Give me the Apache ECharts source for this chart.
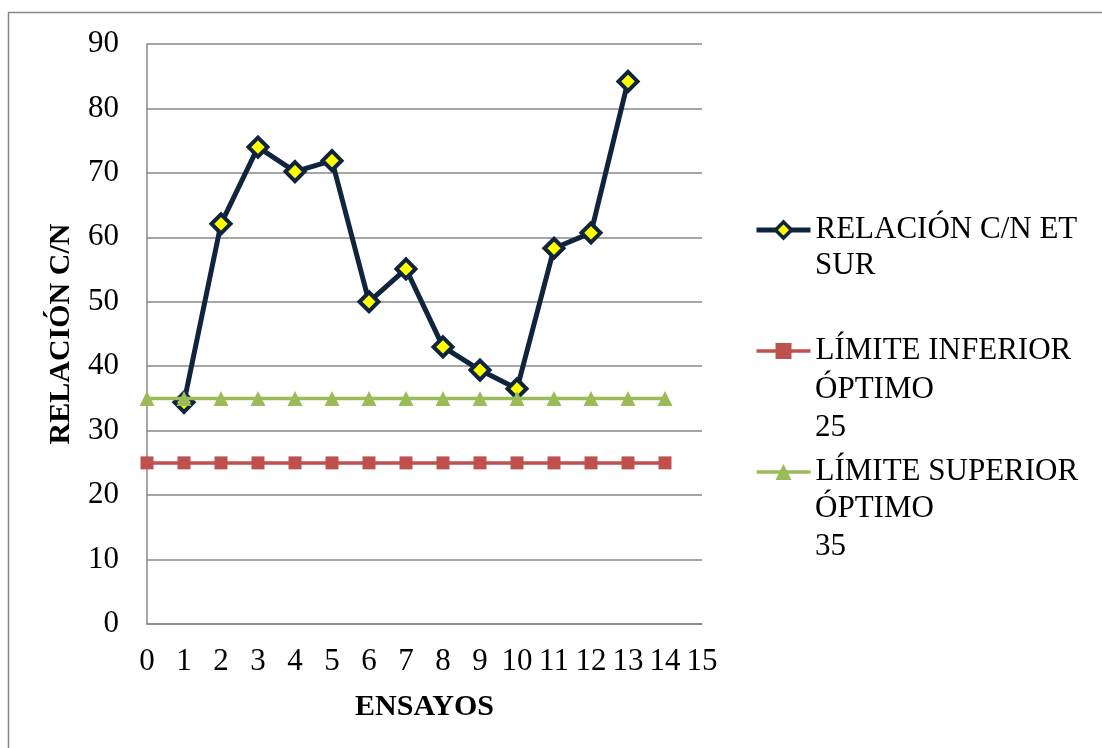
<!DOCTYPE html>
<html>
<head>
<meta charset="utf-8">
<script src="https://cdn.jsdelivr.net/npm/echarts@6/dist/echarts.min.js"></script>
<style>
html,body{margin:0;padding:0;background:#fff;}
#chart{width:1102px;height:748px;}
</style>
</head>
<body>
<div id="chart"></div>
<script>
var xTicks = [0,1,2,3,4,5,6,7,8,9,10,11,12,13,14,15];
var ensayosRel = [1,2,3,4,5,6,7,8,9,10,11,12,13];
var relacionCN = [34.4,62.1,74.0,70.2,71.9,50.0,55.1,43.0,39.4,36.5,58.3,60.7,84.2];
var ensayosLim = [0,1,2,3,4,5,6,7,8,9,10,11,12,13,14];
var limiteInferior = [25,25,25,25,25,25,25,25,25,25,25,25,25,25,25];
var limiteSuperior = [35,35,35,35,35,35,35,35,35,35,35,35,35,35,35];
var seriesNames = ['RELACIÓN C/N ET', 'LÍMITE INFERIOR', 'LÍMITE SUPERIOR'];
var legendExtra = ['SUR', 'ÓPTIMO\n25', 'ÓPTIMO\n35'];

function pairs(xs, ys){ return xs.map(function(x,i){ return [x, ys[i]]; }); }

var FONT = '"Liberation Serif", "Times New Roman", serif';
var NAVY = '#10243e', RED = '#c0504d', GREEN = '#9bbb59';
var chart = echarts.init(document.getElementById('chart'));
chart.setOption({
  animation: false,
  backgroundColor: '#fff',
  textStyle: {fontFamily: FONT},
  graphic: [
    {type:'rect', shape:{x:8.5, y:12.5, width:1200, height:800}, style:{fill:'none', stroke:'#888', lineWidth:1.5}, z:-1},
    {type:'text', left:815, top:247, style:{text:legendExtra[0], font:'31px ' + FONT, fill:'#000', lineHeight:38}},
    {type:'text', left:815, top:371, style:{text:legendExtra[1], font:'31px ' + FONT, fill:'#000', lineHeight:38}},
    {type:'text', left:815, top:490, style:{text:legendExtra[2], font:'31px ' + FONT, fill:'#000', lineHeight:38}}
  ],
  grid: {left:147, right:400, top:44, bottom:124, containLabel:false},
  legend: {
    orient: 'vertical',
    left: 749,
    top: 206,
    itemWidth: 54,
    itemHeight: 20,
    itemGap: 83,
    data: [
      {name: seriesNames[0], itemStyle:{color:'#ffff00', borderColor:NAVY, borderWidth:3.5}, lineStyle:{color:NAVY, width:5}},
      {name: seriesNames[1], itemStyle:{color:RED}, lineStyle:{color:RED, width:3.5}},
      {name: seriesNames[2], itemStyle:{color:GREEN}, lineStyle:{color:GREEN, width:3.5}}
    ],
    textStyle: {fontFamily: FONT, fontSize: 31, color:'#000', lineHeight:38}
  },
  xAxis: {
    type: 'value', min: 0, max: 15, interval: 1,
    name: 'ENSAYOS', nameLocation: 'middle', nameGap: 68,
    nameTextStyle: {fontFamily: FONT, fontSize: 30, fontWeight: 'bold', color:'#000'},
    axisLine: {show:true, lineStyle:{color:'#888', width:1.5}},
    axisTick: {show:false},
    splitLine: {show:false},
    axisLabel: {fontFamily: FONT, fontSize: 31, color:'#000', margin: 22,
      formatter: function(v){ return xTicks.indexOf(v) >= 0 ? String(v) : ''; }}
  },
  yAxis: {
    type: 'value', min: 0, max: 90, interval: 10,
    name: 'RELACIÓN C/N', nameLocation: 'middle', nameGap: 71, nameRotate: 90,
    nameTextStyle: {fontFamily: FONT, fontSize: 30, fontWeight: 'bold', color:'#000'},
    axisLine: {show:true, lineStyle:{color:'#888', width:1.5}},
    axisTick: {show:false},
    splitLine: {show:true, lineStyle:{color:'#888', width:1.5}},
    axisLabel: {fontFamily: FONT, fontSize: 31, color:'#000', margin: 28}
  },
  series: [
    {
      name: seriesNames[0], type: 'line', data: pairs(ensayosRel, relacionCN),
      symbol: 'diamond', symbolSize: 19,
      lineStyle: {color:NAVY, width:5},
      itemStyle: {color:'#ffff00', borderColor:NAVY, borderWidth:4},
      z: 3
    },
    {
      name: seriesNames[1], type: 'line', data: pairs(ensayosLim, limiteInferior),
      symbol: 'rect', symbolSize: 13,
      lineStyle: {color:RED, width:3.5},
      itemStyle: {color:RED, borderWidth:0},
      z: 2
    },
    {
      name: seriesNames[2], type: 'line', data: pairs(ensayosLim, limiteSuperior),
      symbol: 'triangle', symbolSize: 15,
      lineStyle: {color:GREEN, width:3.5},
      itemStyle: {color:GREEN, borderWidth:0},
      z: 4
    }
  ]
});
</script>
</body>
</html>
